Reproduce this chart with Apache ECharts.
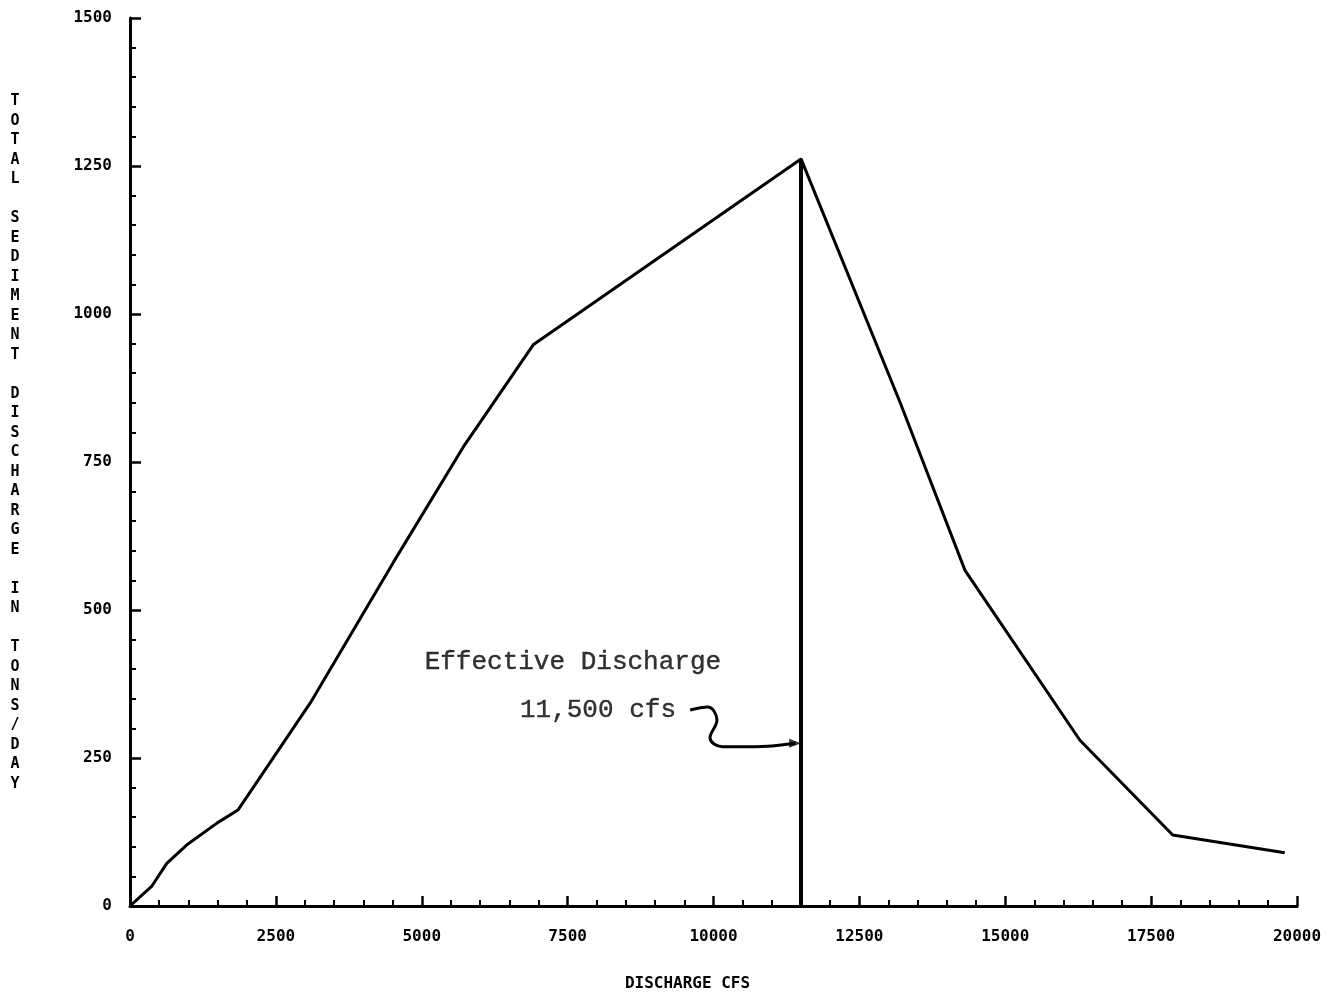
<!DOCTYPE html>
<html>
<head>
<meta charset="utf-8">
<script src="https://cdn.jsdelivr.net/npm/echarts@6/dist/echarts.min.js"></script>
<style>
html,body{margin:0;padding:0;background:#fff;}
#chart{width:1334px;height:998px;}
</style>
</head>
<body>
<div id="chart"></div>
<script>
// Discharge (cfs) vs total sediment discharge (tons/day)
const dischargeCfs = [0, 370, 630, 970, 1490, 1850, 3090, 4510, 5710, 6910, 11500, 13200, 14310, 16280, 17870, 19790];
const sedimentTons = [0, 33, 72, 103, 140, 162, 343, 580, 775, 948, 1262, 850, 567, 280, 120, 90];

const effectiveDischarge = 11500;
const effectivePeak = 1262;
const xTicks = [0, 2500, 5000, 7500, 10000, 12500, 15000, 17500, 20000];
const yTicks = [0, 250, 500, 750, 1000, 1250, 1500];

// annotation arrow path (data coordinates)
const arrowX = [9600, 9900, 10060, 9940, 10150, 10680, 11400];
const arrowY = [331, 336, 314, 284, 269, 269, 275];
const noteLines = ['Effective Discharge', '11,500 cfs'];
const noteX = [7590, 8020];
const noteY = [412, 331];

const yName = 'TOTAL SEDIMENT DISCHARGE IN TONS/DAY';
const xName = 'DISCHARGE CFS';

const chart = echarts.init(document.getElementById('chart'));
const tickFont = {fontFamily: 'DejaVu Sans Mono', fontWeight: 'bold', fontSize: 16, color: '#000'};

const stackedName = yName.split(' ').map(w => w.split('').join('\n')).join('\n\n') + '\n\n';

chart.setOption({
  animation: false,
  backgroundColor: '#fff',
  grid: {left: 130, right: 37, top: 18, bottom: 92, containLabel: false, outerBoundsMode: 'none'},
  xAxis: {
    type: 'value', min: xTicks[0], max: xTicks[xTicks.length - 1], interval: 2500,
    splitLine: {show: false},
    axisLine: {onZero: false, lineStyle: {color: '#000', width: 3}},
    axisTick: {inside: true, length: 10, lineStyle: {color: '#000', width: 2.5}},
    minorTick: {show: true, splitNumber: 5, length: 6, lineStyle: {color: '#000', width: 2}},
    axisLabel: Object.assign({margin: 23, formatter: v => String(v)}, tickFont),
    name: xName, nameLocation: 'middle', nameGap: 70,
    nameTextStyle: {fontFamily: 'DejaVu Sans Mono', fontWeight: 'bold', fontSize: 16, color: '#000', padding: [0, 52, 0, 0]}
  },
  yAxis: {
    type: 'value', min: yTicks[0], max: yTicks[yTicks.length - 1], interval: 250,
    splitLine: {show: false},
    axisLine: {onZero: false, lineStyle: {color: '#000', width: 3}},
    axisTick: {inside: true, length: 11, lineStyle: {color: '#000', width: 2.5}},
    minorTick: {show: true, splitNumber: 5, length: 6, lineStyle: {color: '#000', width: 2}},
    axisLabel: Object.assign({margin: 18, formatter: v => String(v)}, tickFont),
    name: stackedName, nameLocation: 'middle', nameGap: 115, nameRotate: 0,
    nameTextStyle: {fontFamily: 'DejaVu Sans Mono', fontWeight: 'bold', fontSize: 15, lineHeight: 19.5, color: '#000', align: 'center'}
  },
  series: [
    {
      type: 'line',
      data: dischargeCfs.map((x, i) => [x, sedimentTons[i]]),
      showSymbol: false,
      lineStyle: {color: '#000', width: 3},
      markLine: {
        silent: true, symbol: 'none', label: {show: false},
        lineStyle: {color: '#000', width: 4, type: 'solid'},
        data: [[{coord: [effectiveDischarge, 0]}, {coord: [effectiveDischarge, effectivePeak]}]]
      }
    },
    {
      type: 'line',
      data: arrowX.map((x, i) => [x, arrowY[i]]),
      smooth: 0.4,
      showSymbol: false,
      lineStyle: {color: '#000', width: 3}
    },
    {
      type: 'scatter',
      data: [[arrowX[arrowX.length - 1], arrowY[arrowY.length - 1]]],
      symbol: 'triangle', symbolSize: [9, 12], symbolRotate: -90,
      itemStyle: {color: '#000'}
    },
    {
      type: 'scatter',
      data: noteX.map((x, i) => ({value: [x, noteY[i]], label: {formatter: noteLines[i]}})),
      symbolSize: 0,
      label: {show: true, position: 'inside', fontFamily: 'Liberation Mono', fontSize: 26, color: '#000', textBorderColor: '#000', textBorderWidth: 0.4}
    }
  ]
});
</script>
</body>
</html>
